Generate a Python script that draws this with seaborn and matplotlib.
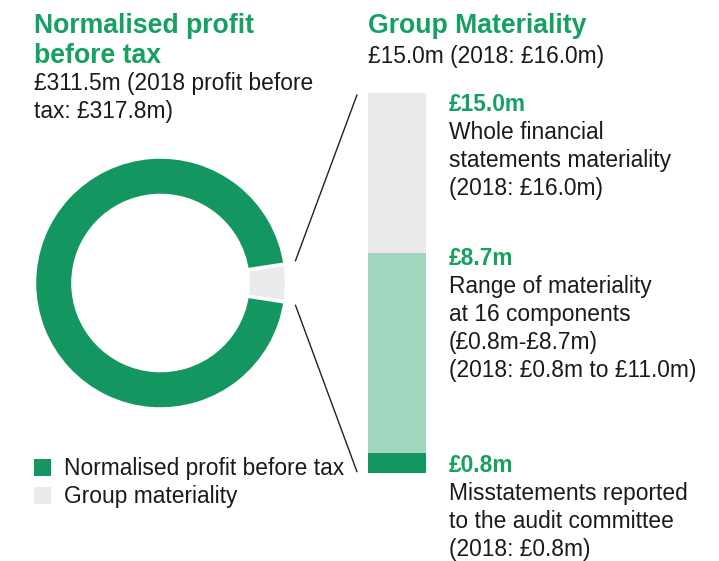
import matplotlib
matplotlib.use("Agg")
import matplotlib.pyplot as plt
import matplotlib.transforms as mtransforms
from matplotlib.patches import ConnectionPatch, Rectangle
import seaborn as sns
import pandas as pd
import numpy as np

sns.set_theme(style="white")
plt.rcParams['font.family'] = ['Liberation Sans', 'DejaVu Sans']

# data
profit = 311.5
materiality = 15.0
pie_labels = ["Normalised profit before tax", "Group materiality"]
bar_levels = ["Whole financial", "Range of materiality", "Misstatements"]
bar_values = [15.0, 8.7, 0.8]
value_labels = ["£15.0m", "£8.7m", "£0.8m"]
desc_lines = [
    ["Whole financial", "statements materiality", "(2018: £16.0m)"],
    ["Range of materiality", "at 16 components", "(£0.8m-£8.7m)", "(2018: £0.8m to £11.0m)"],
    ["Misstatements reported", "to the audit committee", "(2018: £0.8m)"],
]

GREEN = "#13965F"
TITLE_GREEN = "#16A062"
LIGHT_GREEN = "#A1D5BE"
GREY = "#EBEBEB"
TEXT = "#1a1a1a"

W, H = 719, 561
fig = plt.figure(figsize=(W / 100, H / 100), dpi=100)


def px_axes(x0, y0, w, h):
    # pixel box (top-left origin) -> figure axes
    return fig.add_axes([x0 / W, 1 - (y0 + h) / H, w / W, h / H])


def ftext(x, y, s, **kw):
    fig.text(x / W, 1 - y / H, s, va="baseline", ha="left", **kw)


# donut
cx, cy, r = 160.5, 283, 126
ax_pie = px_axes(cx - r, cy - r, 2 * r, 2 * r)
vals = [materiality, profit - materiality]
start = -materiality / profit * 180
ax_pie.pie(vals, colors=[GREY, GREEN], startangle=start, counterclock=True,
           radius=1, wedgeprops=dict(width=0.305, edgecolor="white", linewidth=2.5))
ax_pie.set_xlim(-1, 1)
ax_pie.set_ylim(-1, 1)
ax_pie.set_aspect("equal")
ax_pie.axis("off")

# stacked bar
ax_bar = px_axes(368, 93, 58, 380)
bar_df = pd.DataFrame({"level": bar_levels, "value": bar_values, "x": ["m"] * 3})
for (_, row), col in zip(bar_df.iterrows(), [GREY, LIGHT_GREEN, GREEN]):
    sns.barplot(x=[row["x"]], y=[row["value"]], color=col, width=1, ax=ax_bar,
                saturation=1, linewidth=0)
ax_bar.set_xlim(-0.5, 0.5)
ax_bar.set_ylim(0, bar_values[0])
ax_bar.axis("off")

# connector lines
trans_b = mtransforms.blended_transform_factory(ax_bar.transAxes, ax_bar.transData)
ang = np.deg2rad(9.3)
for sgn, yb in [(1, bar_values[0] * 0.995), (-1, 0.05)]:
    con = ConnectionPatch(xyA=(1.085 * np.cos(ang), sgn * 1.085 * np.sin(ang)), coordsA=ax_pie.transData,
                          xyB=(-0.19, yb), coordsB=trans_b, color="#222222", linewidth=1.0)
    fig.add_artist(con)

# titles
big = 19.2
reg = 16.4
ftext(34, 33, "Normalised profit", color=TITLE_GREEN, fontsize=big, fontweight="bold")
ftext(34, 63, "before tax", color=TITLE_GREEN, fontsize=big, fontweight="bold")
ftext(34, 90, "£311.5m (2018 profit before", color=TEXT, fontsize=reg)
ftext(34, 118, "tax: £317.8m)", color=TEXT, fontsize=reg)

ftext(368, 33, "Group Materiality", color=TITLE_GREEN, fontsize=big, fontweight="bold")
ftext(368, 63, "£15.0m (2018: £16.0m)", color=TEXT, fontsize=reg)

# bar labels
for base, val, lines in zip([111, 265, 472], value_labels, desc_lines):
    ftext(449, base, val, color=TITLE_GREEN, fontsize=reg, fontweight="bold")
    for i, ln in enumerate(lines):
        ftext(449, base + 28 * (i + 1), ln, color=TEXT, fontsize=reg)

# legend
for y0, col, lab, base in [(459, GREEN, pie_labels[0], 475), (487, GREY, pie_labels[1], 503)]:
    fig.add_artist(Rectangle((34 / W, 1 - (y0 + 17) / H), 17 / W, 17 / H,
                             transform=fig.transFigure, color=col, linewidth=0))
    ftext(64, base, lab, color=TEXT, fontsize=reg)

fig.savefig("out.png", dpi=100, facecolor="white")
